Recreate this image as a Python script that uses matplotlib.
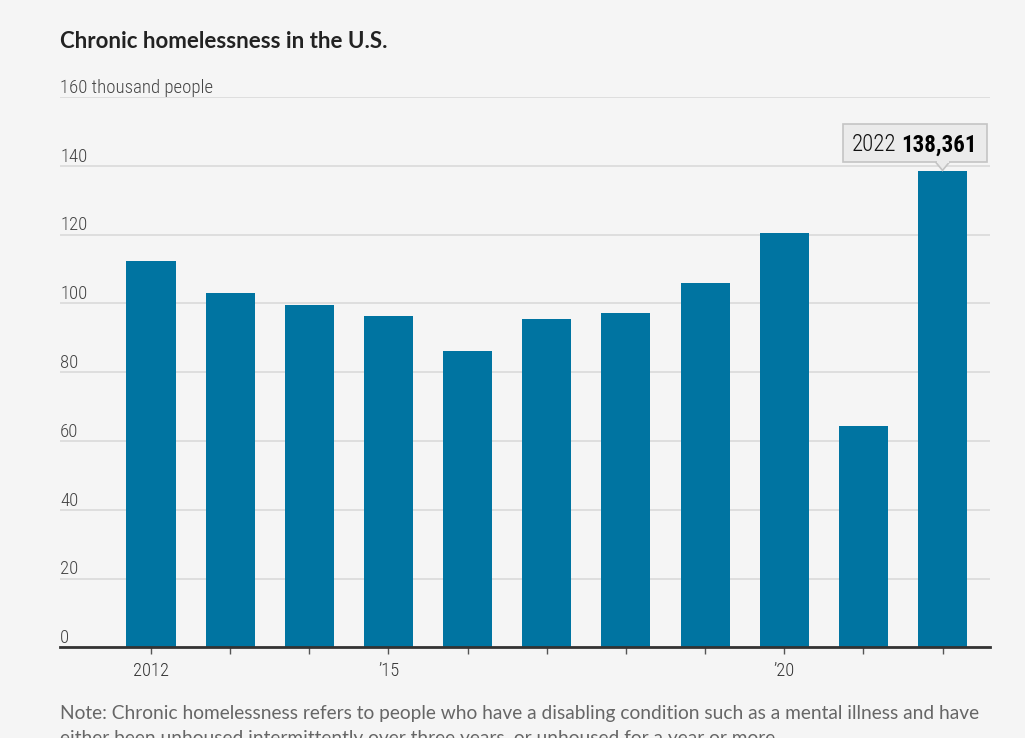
import matplotlib
matplotlib.use("Agg")
import matplotlib.pyplot as plt
from matplotlib.patches import Rectangle, Polygon
from matplotlib.transforms import IdentityTransform

years = [2012, 2013, 2014, 2015, 2016, 2017, 2018, 2019, 2020, 2021, 2022]
values = [112.2, 102.9, 99.4, 96.3, 86.2, 95.4, 97.2, 105.9, 120.4, 64.3, 138.361]
yticks = [0, 20, 40, 60, 80, 100, 120, 140, 160]
ytick_labels = ["0", "20", "40", "60", "80", "100", "120", "140", "160 thousand people"]
xtick_years = [2012, 2015, 2020]
xtick_labels = ["2012", "\u201915", "\u201920"]
title = "Chronic homelessness in the U.S."
note1 = "Note: Chronic homelessness refers to people who have a disabling condition such as a mental illness and have"
note2 = "either been unhoused intermittently over three years, or unhoused for a year or more."
tip_year = "2022"
tip_value = "138,361"

BG = "#f5f5f5"
BAR = "#0074a1"
NARROW = ["Roboto Condensed", "Open Sans Condensed", "Lato", "DejaVu Sans"]

W, H = 1025, 738
fig = plt.figure(figsize=(W / 100, H / 100), dpi=100, facecolor=BG)
ax = fig.add_axes([60 / W, (H - 647.4) / H, 930 / W, 550.4 / H])
ax.set_facecolor(BG)

ax.bar(years, values, width=0.62, color=BAR, zorder=3)
ax.set_xlim(2010.85, 2022.6)
ax.set_ylim(0, 160)

for s in ["top", "right", "left"]:
    ax.spines[s].set_visible(False)
ax.spines["bottom"].set_color("#333333")
ax.spines["bottom"].set_linewidth(2)
ax.spines["bottom"].set_zorder(4)

ax.set_yticks(yticks)
ax.set_yticklabels([])
ax.tick_params(axis="y", length=0)
ax.grid(axis="y", color="#dcdcdc", linewidth=1.3, zorder=0)

ax.set_xticks(years)
ax.set_xticklabels([""] * len(years))
ax.tick_params(axis="x", length=5, width=1, color="#555555", direction="out")

for yr, lab in zip(xtick_years, xtick_labels):
    ax.text(yr, -0.026, lab, transform=ax.get_xaxis_transform(), ha="center", va="top",
            fontsize=13.3, color="#333333", family=NARROW, fontweight="light")

for v, lab in zip(yticks, ytick_labels):
    ax.text(0, v + 1.2, lab, transform=ax.get_yaxis_transform(), ha="left", va="baseline",
            fontsize=13.5, color="#444444", family=NARROW, fontweight="light", zorder=2)

fig.text(60 / W, 1 - 48 / H, title, ha="left", va="baseline", fontsize=16,
         fontweight="bold", color="#222222", family=["Lato", "DejaVu Sans"])

fig.text(60 / W, 1 - 719 / H, note1, ha="left", va="baseline", fontsize=13.75,
         color="#666666", family=["Lato", "DejaVu Sans"])
fig.text(60 / W, 1 - 744 / H, note2, ha="left", va="baseline", fontsize=13.75,
         color="#666666", family=["Lato", "DejaVu Sans"])

# tooltip anchored at the 2022 bar top
px, py = ax.transData.transform((years[-1], values[-1]))
left, right = px - 100, px + 44
bottom, top = py + 9, py + 47
box = Rectangle((left, bottom), right - left, top - bottom, transform=IdentityTransform(),
                facecolor="#ebebeb", edgecolor="#c4c4c4", linewidth=1.2, zorder=10)
fig.add_artist(box)
tri = Polygon([(px - 7, bottom + 0.5), (px, py + 1), (px + 7, bottom + 0.5)], closed=False,
              transform=IdentityTransform(), facecolor="#ebebeb", edgecolor="#c4c4c4",
              linewidth=1.2, zorder=11)
fig.add_artist(tri)
fig.add_artist(Rectangle((px - 6, bottom - 0.5), 12, 2.5, transform=IdentityTransform(),
                         facecolor="#ebebeb", edgecolor="none", zorder=12))
t1 = fig.text((left + 9) / W, (bottom + 11) / H, tip_year, ha="left", va="baseline",
              fontsize=16.5, color="#111111", family=NARROW, fontweight="light", zorder=13)
fig.canvas.draw()
bb = t1.get_window_extent()
fig.text((bb.x1 + 5) / W, (bottom + 11) / H, tip_value, ha="left", va="baseline",
         fontsize=16.5, fontweight="bold", color="#000000", family=NARROW, zorder=13)

fig.savefig("out.png", dpi=100, facecolor=BG)
